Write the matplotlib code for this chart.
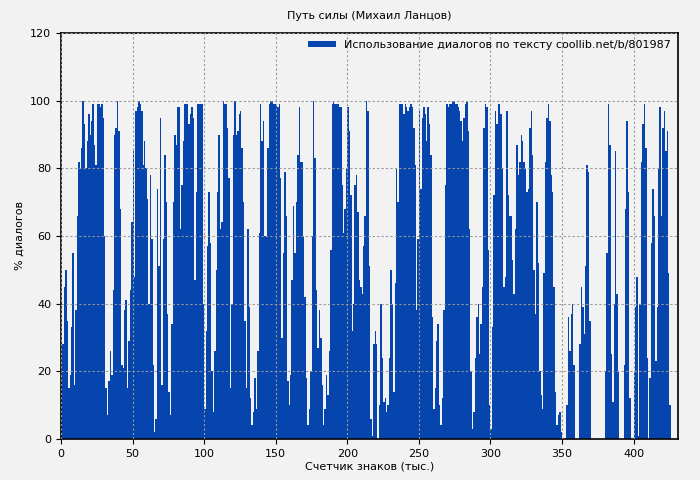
import matplotlib
matplotlib.use('Agg')
import matplotlib.pyplot as plt
import numpy as np

# % of dialogue per 1k characters
dialog_pct = [
    17, 28, 45, 50, 35, 15, 19, 33, 55, 16,
    38, 66, 82, 80, 86, 100, 93, 80, 88, 96,
    90, 94, 99, 87, 81, 99, 99, 98, 99, 95,
    60, 15, 7, 17, 26, 19, 44, 90, 92, 100,
    91, 68, 22, 21, 38, 41, 15, 29, 44, 64,
    85, 48, 97, 98, 100, 99, 97, 81, 88, 80,
    71, 40, 78, 59, 22, 2, 6, 74, 51, 95,
    16, 59, 84, 70, 37, 14, 7, 34, 70, 90,
    87, 98, 98, 62, 75, 88, 99, 99, 99, 93,
    96, 98, 95, 47, 73, 99, 99, 99, 99, 40,
    9, 32, 57, 73, 58, 20, 8, 26, 50, 73,
    90, 62, 64, 100, 99, 99, 92, 77, 15, 40,
    90, 100, 90, 91, 96, 97, 86, 70, 35, 15,
    62, 39, 12, 4, 8, 18, 9, 26, 61, 99,
    88, 94, 60, 60, 86, 99, 100, 100, 99, 99,
    99, 98, 99, 77, 30, 55, 79, 66, 17, 10,
    19, 47, 69, 55, 70, 84, 98, 82, 82, 60,
    42, 18, 4, 9, 20, 60, 100, 83, 44, 27,
    38, 30, 16, 4, 9, 19, 13, 26, 56, 99,
    100, 99, 99, 99, 98, 98, 75, 61, 68, 80,
    98, 91, 72, 32, 40, 75, 78, 67, 47, 45,
    43, 57, 66, 100, 97, 51, 6, 1, 28, 32,
    28, 0, 10, 40, 24, 11, 12, 8, 10, 24,
    50, 40, 14, 46, 80, 70, 99, 99, 99, 96,
    99, 98, 97, 98, 99, 98, 92, 81, 38, 59,
    97, 74, 95, 98, 96, 88, 98, 93, 84, 36,
    9, 15, 29, 34, 10, 4, 12, 38, 75, 99,
    98, 99, 99, 100, 100, 99, 99, 98, 97, 94,
    88, 95, 99, 100, 91, 62, 20, 3, 8, 24,
    36, 40, 25, 34, 45, 92, 99, 98, 56, 10,
    3, 33, 72, 97, 93, 99, 99, 96, 80, 45,
    48, 97, 72, 66, 66, 53, 43, 62, 87, 78,
    82, 90, 88, 82, 80, 73, 74, 92, 97, 84,
    50, 37, 70, 52, 20, 13, 9, 49, 82, 95,
    99, 94, 78, 73, 45, 14, 4, 7, 8, 2,
    0, 0, 0, 10, 36, 26, 37, 40, 22, 0,
    0, 0, 28, 45, 39, 31, 51, 81, 79, 35,
    0, 0, 0, 0, 0, 0, 0, 0, 0, 0,
    20, 55, 99, 87, 25, 11, 40, 85, 43, 20,
    0, 0, 0, 22, 68, 94, 73, 12, 0, 0,
    20, 39, 48, 1, 40, 82, 93, 99, 86, 24,
    0, 18, 58, 74, 66, 23, 39, 80, 98, 66,
    92, 97, 85, 91, 49, 10,
]
chars_k = np.arange(len(dialog_pct))

plt.rcParams['font.family'] = 'DejaVu Sans'
plt.rcParams['font.size'] = 8

fig = plt.figure(figsize=(7, 4.8), dpi=100, facecolor='#f2f2f2')
ax = fig.add_axes([61 / 700, 41 / 480, 617 / 700, 406 / 480])
ax.set_facecolor('#f2f2f2')

ax.bar(chars_k, dialog_pct, width=1.0, align='edge', color='#0645ad',
       linewidth=0, label='Использование диалогов по тексту coollib.net/b/801987')

ax.set_xlim(0, 431)
ax.set_ylim(0, 120)
ax.set_xticks(range(0, 401, 50))
ax.set_yticks(range(0, 121, 20))
ax.grid(True, color='#999999', linestyle=(0, (2, 2)), linewidth=0.8)
ax.set_axisbelow(False)
for sp in ax.spines.values():
    sp.set_linewidth(1.2)

ax.set_title('Путь силы (Михаил Ланцов)', fontsize=8, pad=10)
ax.set_xlabel('Счетчик знаков (тыс.)', fontsize=8, labelpad=2)
ax.set_ylabel('% диалогов', fontsize=8)
leg = ax.legend(loc='upper right', frameon=False, fontsize=8, handlelength=2.5,
                handleheight=0.4, borderaxespad=0.2)

fig.savefig('out.png', dpi=100, facecolor=fig.get_facecolor())
